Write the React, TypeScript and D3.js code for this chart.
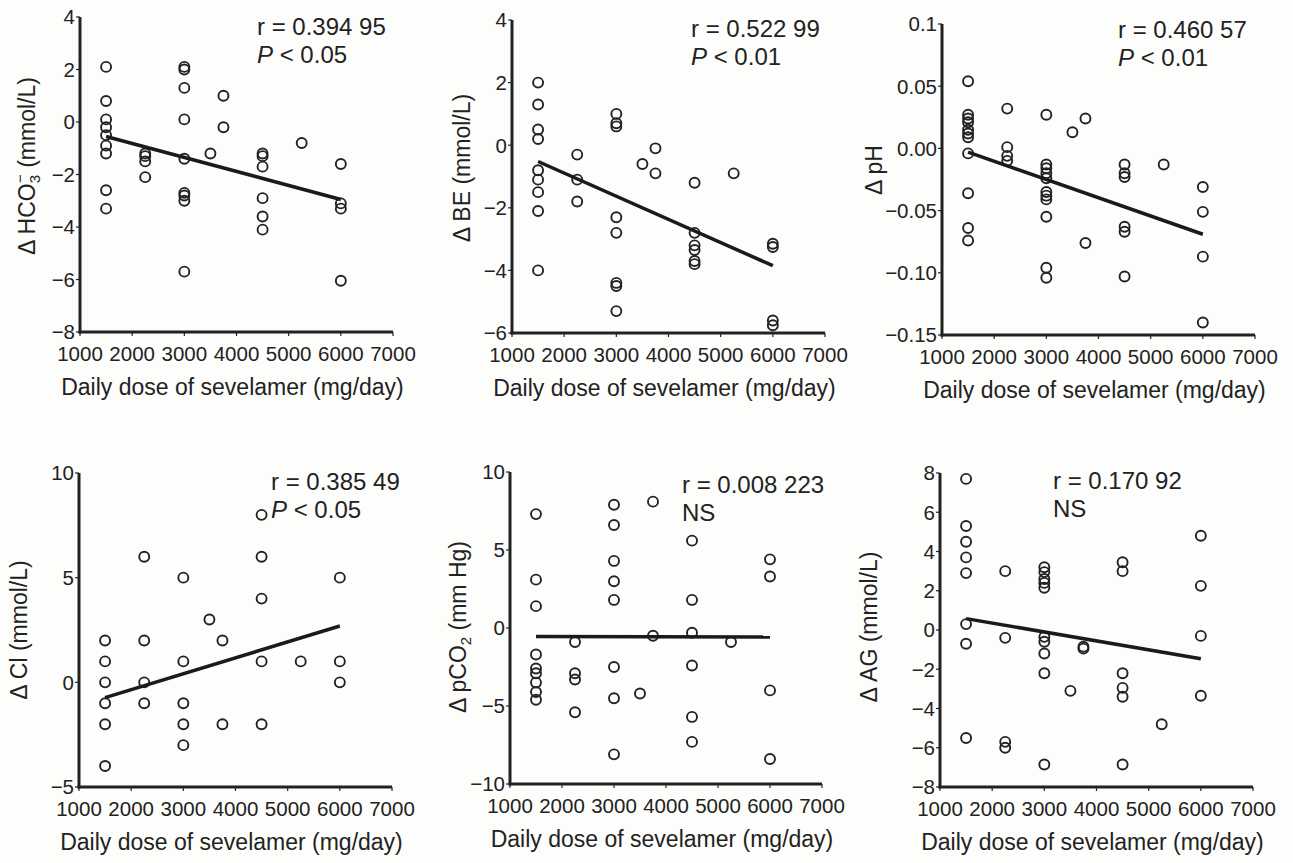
import React from "react";
import * as d3 from "d3";

// ---------- DATA ----------
const doseTicks = [1000, 2000, 3000, 4000, 5000, 6000, 7000];

const hco3Dose = [1500,1500,1500,1500,1500,1500,1500,1500,1500, 2250,2250,2250,2250, 3000,3000,3000,3000,3000,3000,3000,3000,3000, 3500, 3750,3750, 4500,4500,4500,4500,4500,4500, 5250, 6000,6000,6000,6000];
const hco3Delta = [2.1,0.8,0.1,-0.2,-0.5,-0.9,-1.2,-2.6,-3.3, -1.2,-1.3,-1.5,-2.1, 2.1,2.0,1.3,0.1,-1.4,-2.7,-2.8,-3.0,-5.7, -1.2, 1.0,-0.2, -1.2,-1.3,-1.7,-2.9,-3.6,-4.1, -0.8, -1.6,-3.1,-3.3,-6.05];
const hco3Fit = [-0.55, -2.95];
const hco3Ticks = [4, 2, 0, -2, -4, -6, -8];

const beDose = [1500,1500,1500,1500,1500,1500,1500,1500,1500, 2250,2250,2250, 3000,3000,3000,3000,3000,3000,3000,3000, 3500, 3750,3750, 4500,4500,4500,4500,4500,4500, 5250, 6000,6000,6000,6000];
const beDelta = [2.0,1.3,0.5,0.2,-0.8,-1.1,-1.5,-2.1,-4.0, -0.3,-1.1,-1.8, 1.0,0.7,0.6,-2.3,-2.8,-4.4,-4.5,-5.3, -0.6, -0.1,-0.9, -1.2,-2.8,-3.2,-3.35,-3.7,-3.8, -0.9, -3.15,-3.25,-5.6,-5.75];
const beFit = [-0.52, -3.85];
const beTicks = [4, 2, 0, -2, -4, -6];

const phDose = [1500,1500,1500,1500,1500,1500,1500,1500,1500,1500,1500, 2250,2250,2250,2250, 3000,3000,3000,3000,3000,3000,3000,3000,3000,3000,3000, 3500, 3750,3750, 4500,4500,4500,4500,4500,4500, 5250, 6000,6000,6000,6000];
const phDelta = [0.054,0.027,0.024,0.021,0.015,0.012,0.009,-0.004,-0.036,-0.064,-0.074, 0.032,0.001,-0.006,-0.010, 0.027,-0.013,-0.016,-0.020,-0.024,-0.035,-0.038,-0.041,-0.055,-0.096,-0.104, 0.013, 0.024,-0.076, -0.013,-0.020,-0.023,-0.063,-0.067,-0.103, -0.013, -0.031,-0.051,-0.087,-0.140];
const phFit = [-0.003, -0.069];
const phTicks = [0.1, 0.05, 0.0, -0.05, -0.1, -0.15];
const phTickLabels = ["0.1", "0.05", "0.00", "\u22120.05", "\u22120.10", "\u22120.15"];

const clDose = [1500,1500,1500,1500,1500,1500, 2250,2250,2250,2250, 3000,3000,3000,3000,3000, 3500, 3750,3750, 4500,4500,4500,4500,4500, 5250, 6000,6000,6000];
const clDelta = [2,1,0,-1,-2,-4, 6,2,0,-1, 5,1,-1,-2,-3, 3, 2,-2, 8,6,4,1,-2, 1, 5,1,0];
const clFit = [-0.73, 2.69];
const clTicks = [10, 5, 0, -5];

const pco2Dose = [1500,1500,1500,1500,1500,1500,1500,1500,1500, 2250,2250,2250,2250, 3000,3000,3000,3000,3000,3000,3000,3000, 3500, 3750,3750, 4500,4500,4500,4500,4500,4500, 5250, 6000,6000,6000,6000];
const pco2Delta = [7.3,3.1,1.4,-1.7,-2.6,-2.9,-3.5,-4.1,-4.6, -0.9,-2.9,-3.3,-5.4, 7.9,6.6,4.3,3.0,1.8,-2.5,-4.5,-8.1, -4.2, 8.1,-0.5, 5.6,1.8,-0.3,-2.4,-5.7,-7.3, -0.9, 4.4,3.3,-4.0,-8.4];
const pco2Fit = [-0.55, -0.58];
const pco2Ticks = [10, 5, 0, -5, -10];

const agDose = [1500,1500,1500,1500,1500,1500,1500,1500, 2250,2250,2250,2250, 3000,3000,3000,3000,3000,3000,3000,3000,3000,3000, 3500, 3750,3750, 4500,4500,4500,4500,4500,4500, 5250, 6000,6000,6000,6000];
const agDelta = [7.7,5.3,4.5,3.7,2.9,0.3,-0.7,-5.5, 3.0,-0.4,-5.7,-6.0, 3.2,2.95,2.6,2.4,2.15,-0.35,-0.6,-1.2,-2.2,-6.85, -3.1, -0.85,-0.95, 3.45,3.0,-2.2,-2.95,-3.4,-6.85, -4.8, 4.8,2.25,-0.3,-3.35];
const agFit = [0.58, -1.46];
const agTicks = [8, 6, 4, 2, 0, -2, -4, -6, -8];

const fitDoses = [1500, 6000];
const xTitle = "Daily dose of sevelamer (mg/day)";

// ---------- LAYOUT ----------
const FONT = "'Liberation Sans', Arial, Helvetica, sans-serif";
const INK = "#222222";

const minus = (v: number) => (v < 0 ? "\u2212" + String(-v) : String(v));

type Panel = {
  dose: number[]; delta: number[]; fit: number[]; ticks: number[]; tickLabels?: string[];
  rText: string; pText: string; pItalic: boolean;
  left: number; right: number; top: number; bottom: number;
  labX: number; labY: number; statX: number; statY: number;
  label: React.ReactNode;
};

const panels: Panel[] = [
  { dose: hco3Dose, delta: hco3Delta, fit: hco3Fit, ticks: hco3Ticks, rText: "r = 0.394 95", pText: "< 0.05", pItalic: true,
    left: 80, right: 393, top: 17, bottom: 332, labX: 27, labY: 166, statX: 257, statY: 35,
    label: (<>{"\u0394 HCO"}<tspan dy="5" fontSize="15">3</tspan><tspan dx="-8" dy="-15" fontSize="15">{"\u2212"}</tspan><tspan dy="10">{" (mmol/L)"}</tspan></>) },
  { dose: beDose, delta: beDelta, fit: beFit, ticks: beTicks, rText: "r = 0.522 99", pText: "< 0.01", pItalic: true,
    left: 512, right: 825, top: 20, bottom: 333, labX: 462, labY: 168, statX: 691, statY: 37,
    label: "\u0394 BE (mmol/L)" },
  { dose: phDose, delta: phDelta, fit: phFit, ticks: phTicks, tickLabels: phTickLabels, rText: "r = 0.460 57", pText: "< 0.01", pItalic: true,
    left: 942, right: 1255, top: 24, bottom: 335, labX: 874, labY: 170, statX: 1118, statY: 38,
    label: "\u0394 pH" },
  { dose: clDose, delta: clDelta, fit: clFit, ticks: clTicks, rText: "r = 0.385 49", pText: "< 0.05", pItalic: true,
    left: 79, right: 392, top: 473, bottom: 787, labX: 19, labY: 630, statX: 271, statY: 490,
    label: "\u0394 Cl (mmol/L)" },
  { dose: pco2Dose, delta: pco2Delta, fit: pco2Fit, ticks: pco2Ticks, rText: "r = 0.008 223", pText: "NS", pItalic: false,
    left: 510, right: 822, top: 472, bottom: 784, labX: 458, labY: 627, statX: 682, statY: 493,
    label: (<>{"\u0394 pCO"}<tspan dy="5" fontSize="15">2</tspan><tspan dy="-5">{" (mm Hg)"}</tspan></>) },
  { dose: agDose, delta: agDelta, fit: agFit, ticks: agTicks, rText: "r = 0.170 92", pText: "NS", pItalic: false,
    left: 940, right: 1253, top: 473, bottom: 787, labX: 869, labY: 627, statX: 1053, statY: 489,
    label: "\u0394 AG (mmol/L)" },
];

function ScatterPanel({ p }: { p: Panel }) {
  const x = d3.scaleLinear().domain([1000, 7000]).range([p.left, p.right]);
  const yMax = d3.max(p.ticks) as number;
  const yMin = d3.min(p.ticks) as number;
  const y = d3.scaleLinear().domain([yMin, yMax]).range([p.bottom, p.top]);
  const line = d3.line<number>().x((d) => x(d)).y((_, i) => y(p.fit[i]));
  return (
    <g>
      {/* axes */}
      <line x1={p.left} x2={p.left} y1={p.top} y2={p.bottom + 1.5} stroke={INK} strokeWidth={3} />
      <line x1={p.left - 1.5} x2={p.right} y1={p.bottom} y2={p.bottom} stroke={INK} strokeWidth={3} />
      {p.ticks.map((t, i) => (
        <g key={"y" + i}>
          <line x1={p.left - 4} x2={p.left} y1={y(t)} y2={y(t)} stroke={INK} strokeWidth={1.2} />
          <text x={p.left - 5} y={y(t)} dy="0.36em" textAnchor="end" fontSize={20.5} fill={INK}>
            {p.tickLabels ? p.tickLabels[i] : minus(t)}
          </text>
        </g>
      ))}
      {doseTicks.map((t) => (
        <g key={"x" + t}>
          <line x1={x(t)} x2={x(t)} y1={p.bottom} y2={p.bottom + 4} stroke={INK} strokeWidth={1.2} />
          <text x={x(t)} y={p.bottom + 29} textAnchor="middle" fontSize={20.5} fill={INK}>{t}</text>
        </g>
      ))}
      <text x={(p.left + p.right) / 2 - 4} y={p.bottom + 63} textAnchor="middle" fontSize={23} fill={INK}>{xTitle}</text>
      <text transform={`translate(${p.labX},${p.labY}) rotate(-90)`} textAnchor="middle" dy="0.36em" fontSize={23} fill={INK}>
        {p.label}
      </text>
      {/* points */}
      {p.dose.map((d, i) => (
        <circle key={i} cx={x(d)} cy={y(p.delta[i])} r={5} fill="none" stroke={INK} strokeWidth={1.9} />
      ))}
      {/* regression */}
      <path d={line(fitDoses) || ""} fill="none" stroke="#1a1a1a" strokeWidth={3.5} />
      {/* stats */}
      <text x={p.statX} y={p.statY} fontSize={24} fill={INK}>{p.rText}</text>
      <text x={p.statX} y={p.statY + 28} fontSize={24} fill={INK}>
        {p.pItalic ? (<><tspan fontStyle="italic">P</tspan>{" " + p.pText}</>) : p.pText}
      </text>
    </g>
  );
}

export default function App() {
  return (
    <svg width={1293} height={863} style={{ position: "absolute", left: 0, top: 0, background: "#fdfdfb" }} fontFamily={FONT}>
      <rect width={1293} height={863} fill="#fdfdfb" />
      {panels.map((p, i) => <ScatterPanel key={i} p={p} />)}
    </svg>
  );
}
